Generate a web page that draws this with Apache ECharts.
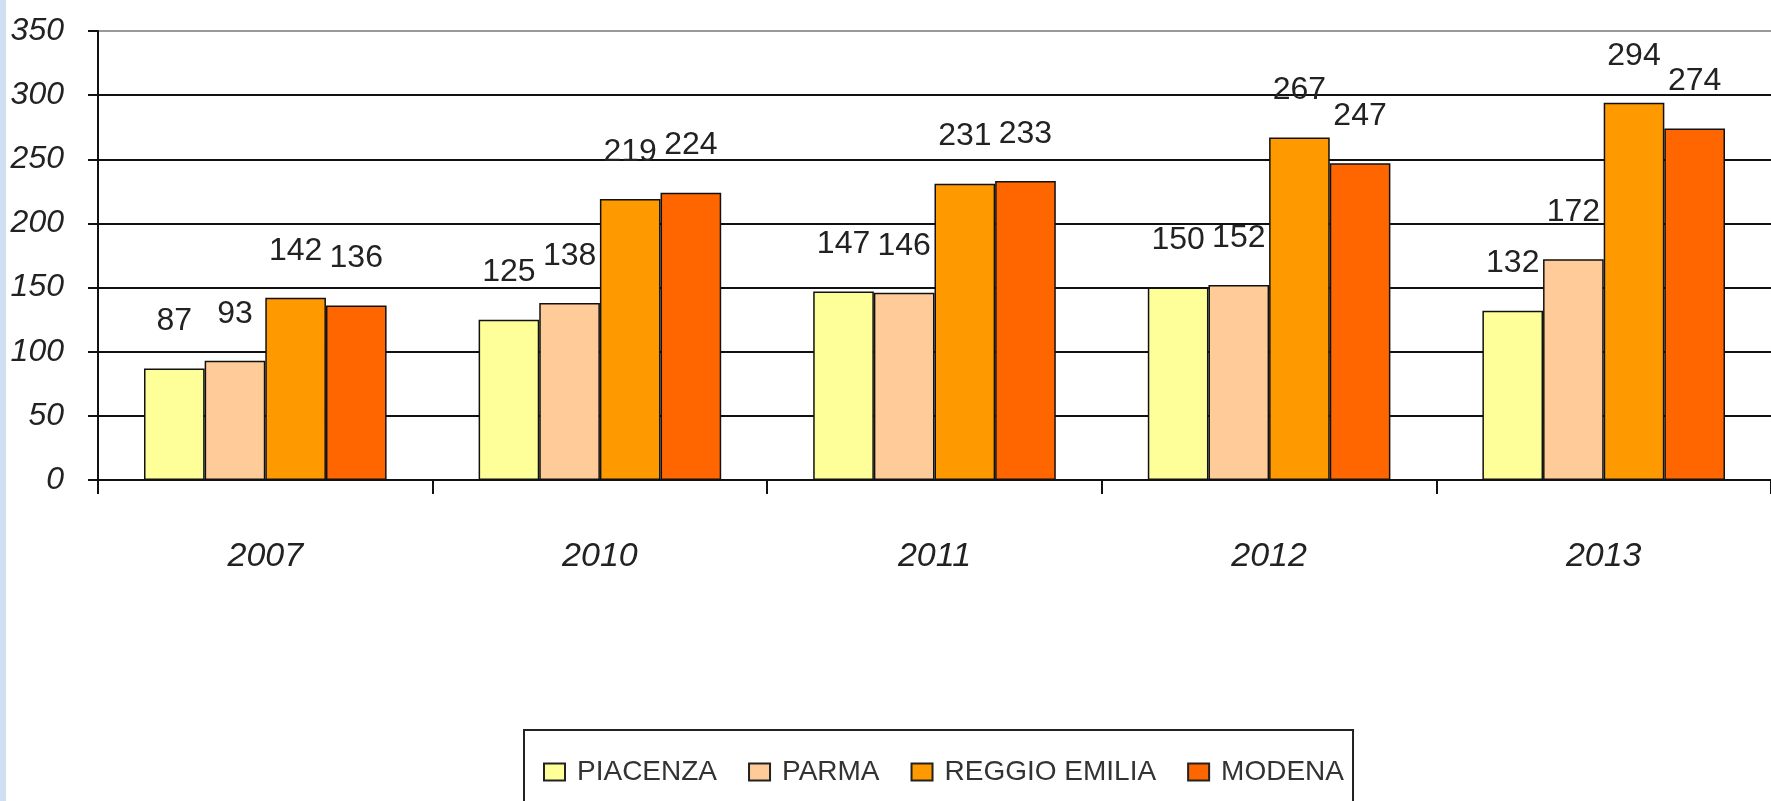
<!DOCTYPE html>
<html>
<head>
<meta charset="utf-8">
<script src="https://cdn.jsdelivr.net/npm/echarts@6/dist/echarts.min.js"></script>
<style>
html,body{margin:0;padding:0;background:#fff;}
#chart{width:1771px;height:801px;}
</style>
</head>
<body>
<div id="chart"></div>
<script>
const categories = ['2007', '2010', '2011', '2012', '2013'];
const seriesNames = ['PIACENZA', 'PARMA', 'REGGIO EMILIA', 'MODENA'];
const piacenza = [87, 125, 147, 150, 132];
const parma = [93, 138, 146, 152, 172];
const reggioEmilia = [142, 219, 231, 267, 294];
const modena = [136, 224, 233, 247, 274];
const yTicks = [0, 50, 100, 150, 200, 250, 300, 350];
const colors = ['#FFFF99', '#FFCC99', '#FF9900', '#FF6600'];
const seriesValues = [piacenza, parma, reggioEmilia, modena];

const FONT = "'Liberation Sans', Arial, sans-serif";
const chart = echarts.init(document.getElementById('chart'));

chart.setOption({
  animation: false,
  backgroundColor: '#ffffff',
  graphic: [{
    type: 'rect',
    shape: {x: 0, y: 0, width: 6, height: 801},
    style: {fill: '#cfe0f2'},
    silent: true
  }],
  grid: {left: 98, top: 31, width: 1690, height: 449, containLabel: false},
  legend: {
    data: seriesNames,
    left: 524,
    top: 730,
    orient: 'horizontal',
    icon: 'rect',
    borderColor: '#222',
    borderWidth: 2,
    padding: [28, 9, 28, 19],
    itemWidth: 21,
    itemHeight: 17,
    itemGap: 31,
    textStyle: {fontFamily: FONT, fontSize: 28, color: '#333', padding: [0, 0, 0, 7]},
    itemStyle: {borderColor: '#222', borderWidth: 2}
  },
  xAxis: {
    type: 'category',
    data: categories,
    axisLine: {show: true, lineStyle: {color: '#111', width: 2}},
    axisTick: {show: true, alignWithLabel: false, length: 14, lineStyle: {color: '#111', width: 2}},
    axisLabel: {fontFamily: FONT, fontStyle: 'italic', fontSize: 34, color: '#222', margin: 60},
    splitLine: {show: false}
  },
  yAxis: {
    type: 'value',
    min: 0,
    max: 350,
    interval: 50,
    axisLine: {show: true, lineStyle: {color: '#111', width: 2}},
    axisTick: {show: true, length: 10, lineStyle: {color: '#111', width: 2}},
    axisLabel: {
      fontFamily: FONT, fontStyle: 'italic', fontSize: 32, color: '#222', margin: 34,
      formatter: function (v) { return yTicks.indexOf(v) >= 0 ? String(v) : ''; }
    },
    splitLine: {show: true, lineStyle: {color: ['#111', '#111', '#111', '#111', '#111', '#111', '#111', '#999'], width: 2}}
  },
  series: seriesNames.map(function (name, i) {
    return {
      name: name,
      type: 'bar',
      data: seriesValues[i],
      barGap: '0%',
      barCategoryGap: '27.5%',
      itemStyle: {color: colors[i], borderColor: '#111', borderWidth: 1.5},
      label: {
        show: true,
        position: 'top',
        distance: 31,
        fontFamily: FONT,
        fontSize: 32,
        color: '#222'
      }
    };
  })
});
</script>
</body>
</html>
